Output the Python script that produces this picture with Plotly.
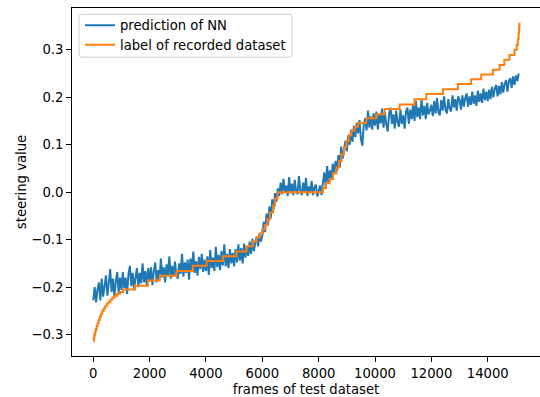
import plotly.graph_objects as go

# ---- data ----
pred_start = 0
pred_step = 50
prediction = [
    -0.228, -0.200, -0.232, -0.205, -0.190, -0.228, -0.182, -0.220, -0.198, -0.175,
    -0.218, -0.192, -0.162, -0.210, -0.182, -0.220, -0.188, -0.168, -0.212, -0.180,
    -0.206, -0.168, -0.202, -0.180, -0.214, -0.172, -0.155, -0.198, -0.170, -0.206,
    -0.180, -0.160, -0.200, -0.170, -0.192, -0.150, -0.190, -0.166, -0.198, -0.160,
    -0.188, -0.158, -0.196, -0.166, -0.148, -0.190, -0.164, -0.184, -0.140, -0.180,
    -0.158, -0.190, -0.152, -0.176, -0.135, -0.182, -0.155, -0.178, -0.146, -0.174,
    -0.182, -0.150, -0.172, -0.130, -0.178, -0.148, -0.170, -0.142, -0.184, -0.140,
    -0.166, -0.125, -0.170, -0.145, -0.176, -0.136, -0.162, -0.130, -0.168, -0.142,
    -0.166, -0.135, -0.174, -0.122, -0.160, -0.138, -0.166, -0.115, -0.158, -0.132,
    -0.164, -0.124, -0.154, -0.110, -0.156, -0.130, -0.160, -0.120, -0.150, -0.128,
    -0.156, -0.120, -0.148, -0.110, -0.144, -0.118, -0.150, -0.108, -0.138, -0.114,
    -0.134, -0.104, -0.130, -0.098, -0.124, -0.106, -0.094, -0.114, -0.086, -0.104,
    -0.092, -0.062, -0.084, -0.045, -0.070, -0.030, -0.055, -0.015, -0.036, -0.002,
    -0.020, 0.008, -0.008, 0.020, -0.004, 0.028, 0.000, 0.014, -0.008, 0.032,
    -0.002, 0.018, -0.006, 0.026, 0.002, -0.004, 0.034, 0.004, -0.006, 0.020,
    0.000, 0.030, -0.008, 0.012, -0.002, 0.024, -0.006, 0.010, 0.016, -0.009,
    0.002, 0.014, -0.006, 0.020, 0.042, 0.010, 0.055, 0.020, 0.046, 0.026,
    0.060, 0.038, 0.066, 0.045, 0.078, 0.052, 0.096, 0.070, 0.090, 0.108,
    0.086, 0.120, 0.100, 0.132, 0.106, 0.140, 0.116, 0.146, 0.124, 0.152,
    0.112, 0.098, 0.142, 0.156, 0.130, 0.172, 0.136, 0.160, 0.132, 0.166,
    0.140, 0.170, 0.132, 0.164, 0.145, 0.176, 0.136, 0.168, 0.142, 0.128,
    0.165, 0.178, 0.144, 0.164, 0.134, 0.172, 0.148, 0.138, 0.174, 0.144,
    0.162, 0.134, 0.170, 0.178, 0.144, 0.174, 0.154, 0.184, 0.150, 0.192,
    0.158, 0.178, 0.154, 0.196, 0.162, 0.182, 0.154, 0.188, 0.164, 0.172,
    0.184, 0.160, 0.192, 0.166, 0.198, 0.168, 0.162, 0.194, 0.172, 0.202,
    0.174, 0.166, 0.196, 0.176, 0.170, 0.204, 0.178, 0.196, 0.172, 0.202,
    0.194, 0.174, 0.204, 0.180, 0.198, 0.208, 0.180, 0.202, 0.184, 0.212,
    0.186, 0.204, 0.182, 0.214, 0.190, 0.208, 0.188, 0.218, 0.194, 0.212,
    0.192, 0.216, 0.196, 0.222, 0.200, 0.218, 0.226, 0.202, 0.224, 0.206,
    0.232, 0.210, 0.228, 0.236, 0.212, 0.234, 0.240, 0.220, 0.244, 0.226,
    0.246, 0.234, 0.250,
]
pred_frames = [pred_start + i * pred_step for i in range(len(prediction))]

label_frames = [
    0, 20, 40, 65, 90, 120, 150, 190, 230, 275, 320, 370, 420, 480, 540, 610, 680,
    760, 850, 950, 1060, 1480, 1940, 2360, 2960,
    3530, 4020, 4600, 5080, 5440, 5660, 5800, 5910, 6000, 6090, 6180, 6270, 6380,
    6450, 6540, 8150, 8260, 8390, 8510, 8630, 8720, 8810, 8900, 8980, 9070, 9160,
    9280, 9390, 9690, 10050, 10340, 10870, 11400, 11820, 12410, 12940, 13410,
    13770, 14180, 14420, 14590, 14770, 14950, 15030, 15070, 15095, 15115, 15126,
]
label_values = [
    -0.314, -0.306, -0.300, -0.294, -0.288, -0.282, -0.276, -0.269, -0.262, -0.256,
    -0.250, -0.245, -0.240, -0.235, -0.231, -0.226, -0.222, -0.218, -0.214, -0.210,
    -0.205, -0.197, -0.186, -0.176, -0.166, -0.155, -0.145, -0.135, -0.125, -0.114,
    -0.104, -0.095, -0.087, -0.078, -0.069, -0.057, -0.043, -0.028, -0.014, 0.000,
    0.009, 0.019, 0.028, 0.040, 0.052, 0.065, 0.080, 0.095, 0.108, 0.120, 0.130,
    0.138, 0.146, 0.156, 0.164, 0.175, 0.185, 0.196, 0.207, 0.217, 0.228, 0.238,
    0.248, 0.258, 0.268, 0.279, 0.289, 0.300, 0.310, 0.322, 0.335, 0.348, 0.357,
]

x_ticks = [0, 2000, 4000, 6000, 8000, 10000, 12000, 14000]
y_ticks = [-0.3, -0.2, -0.1, 0.0, 0.1, 0.2, 0.3]
y_tick_text = ["\u22120.3", "\u22120.2", "\u22120.1", "0.0", "0.1", "0.2", "0.3"]

FONT = "DejaVu Sans"
FS = 13.2

fig = go.Figure()
fig.add_trace(go.Scatter(
    x=pred_frames, y=prediction, mode="lines", name="prediction of NN",
    line=dict(color="#1f77b4", width=2, simplify=False), legend="legend",
))
fig.add_trace(go.Scatter(
    x=label_frames, y=label_values, mode="lines", name="label of recorded dataset",
    line=dict(color="#ff7f0e", width=2, shape="hv", simplify=False), legend="legend2",
))

# legend frame (rounded rectangle, matplotlib style) in paper coordinates
PLOT_L, PLOT_W, PLOT_B, PLOT_H = 72, 468, 356.5, 348.5
bx0, bx1 = (79 - PLOT_L) / PLOT_W, (292 - PLOT_L) / PLOT_W
by1, by0 = (PLOT_B - 14.3) / PLOT_H, (PLOT_B - 57.3) / PLOT_H
rx, ry = 3 / PLOT_W, 3 / PLOT_H
frame_path = (
    f"M {bx0+rx},{by1} L {bx1-rx},{by1} Q {bx1},{by1} {bx1},{by1-ry} "
    f"L {bx1},{by0+ry} Q {bx1},{by0} {bx1-rx},{by0} "
    f"L {bx0+rx},{by0} Q {bx0},{by0} {bx0},{by0+ry} "
    f"L {bx0},{by1-ry} Q {bx0},{by1} {bx0+rx},{by1} Z"
)
fig.add_shape(type="path", path=frame_path, xref="paper", yref="paper",
              line=dict(color="#cccccc", width=1),
              fillcolor="rgba(255,255,255,0.8)", layer="above")

leg_common = dict(
    xanchor="left", yanchor="middle", bgcolor="rgba(0,0,0,0)", borderwidth=0,
    font=dict(family=FONT, size=FS, color="black"), itemwidth=30,
)

fig.update_layout(
    width=540, height=397,
    margin=dict(l=72, r=0, t=8, b=40.5),
    paper_bgcolor="white", plot_bgcolor="white",
    font=dict(family=FONT, size=FS, color="black"),
    showlegend=True,
    legend=dict(x=(80 - PLOT_L) / PLOT_W, y=(PLOT_B - 25.7) / PLOT_H, **leg_common),
    legend2=dict(x=(80 - PLOT_L) / PLOT_W, y=(PLOT_B - 45.2) / PLOT_H, **leg_common),
    xaxis=dict(
        range=[-755, 15855], tickvals=x_ticks, ticktext=[str(v) for v in x_ticks],
        showgrid=False, zeroline=False, showline=True, linecolor="black",
        linewidth=1, mirror=True, ticks="outside", ticklen=5, tickwidth=1,
        tickcolor="black",
        title=dict(text="frames of test dataset", standoff=8,
                   font=dict(family=FONT, size=FS)),
    ),
    yaxis=dict(
        range=[-0.345, 0.388], tickvals=y_ticks, ticktext=y_tick_text,
        showgrid=False, zeroline=False, showline=True, linecolor="black",
        linewidth=1, mirror=False, ticks="outside", ticklen=5, tickwidth=1,
        tickcolor="black",
        title=dict(text="steering value", standoff=1,
                   font=dict(family=FONT, size=FS)),
    ),
)

fig.write_html("out.html")
